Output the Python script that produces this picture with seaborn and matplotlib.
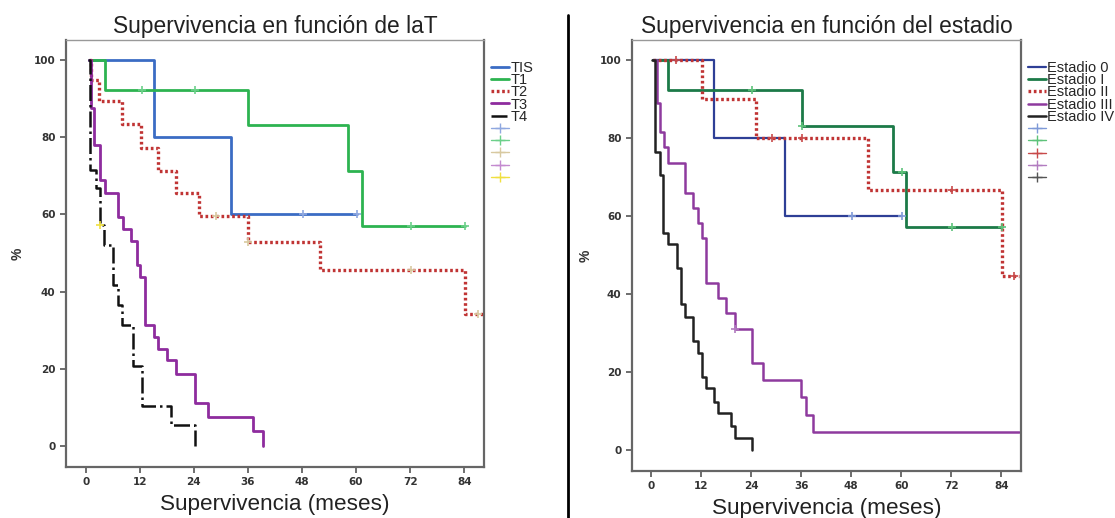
import seaborn as sns
import matplotlib.pyplot as plt
import pandas as pd
from matplotlib.lines import Line2D

# --- datos: tiempos (meses) y supervivencia (%) ---
# panel izquierdo: por T
tis_t = [0.7, 15.1, 32.2, 60.2]
tis_s = [100, 80, 60, 60]
t1_t = [0.9, 4.2, 36.0, 58.2, 61.3, 84.2]
t1_s = [100, 92.3, 83.2, 71.2, 57.0, 57.0]
t2_t = [0.7, 1.2, 2.9, 8.0, 12.2, 16.0, 20.0, 25.1, 36.0, 52.0, 84.2, 88.3]
t2_s = [100, 94.8, 89.4, 83.4, 77.2, 71.2, 65.5, 59.6, 52.8, 45.6, 34.2, 34.2]
t3_t = [0.7, 1.2, 1.85, 3.1, 4.2, 7.2, 8.3, 10.1, 11.3, 12.0, 13.1, 15.1, 16.0, 18.0, 20.0, 24.2, 27.2, 37.2, 39.3]
t3_s = [100, 87.6, 78.0, 68.9, 65.6, 59.4, 56.3, 53.2, 46.9, 43.8, 31.3, 28.2, 25.1, 22.3, 18.7, 11.1, 7.5, 3.9, 0]
t4_t = [0.5, 0.9, 2.2, 3.1, 4.0, 6.1, 7.2, 8.1, 10.4, 12.4, 19.0, 24.2]
t4_s = [100, 71.5, 66.8, 57.2, 52.0, 41.7, 36.5, 31.3, 20.7, 10.4, 5.4, 0]

# censuras (tiempo, %)
tis_cens = [(48.2, 60), (60.2, 60)]
t1_cens = [(12.4, 92.3), (24.2, 92.3), (72.2, 57.0), (84.2, 57.0)]
t2_cens = [(29.0, 59.6), (36.0, 52.8), (72.2, 45.6), (87.1, 34.2)]
t3_cens = []
t4_cens = [(3.1, 57.2)]

# panel derecho: por estadio
e0_t = [0.5, 15.1, 32.1, 60.2]
e0_s = [100, 80, 60, 60]
e1_t = [0.5, 4.1, 36.2, 58.0, 61.2, 84.2]
e1_s = [100, 92.3, 83.0, 71.3, 57.2, 57.2]
e2_t = [0.5, 12.2, 25.2, 52.0, 84.2, 88.3]
e2_s = [100, 90.0, 80.0, 66.7, 44.6, 44.6]
e3_t = [1.0, 1.4, 2.2, 3.1, 4.1, 8.2, 10.1, 11.2, 12.2, 13.1, 16.1, 18.0, 20.0, 24.2, 26.9, 36.0, 37.2, 38.9, 88.3]
e3_s = [100, 89.0, 81.5, 77.7, 73.6, 66.0, 62.0, 58.2, 54.4, 42.8, 38.9, 35.1, 31.0, 22.3, 18.0, 13.6, 9.0, 4.6, 4.6]
e4_t = [0.3, 1.0, 2.0, 2.9, 4.1, 6.2, 7.2, 8.2, 10.1, 11.3, 12.2, 13.2, 15.1, 16.1, 19.2, 20.1, 24.2]
e4_s = [100, 76.4, 70.5, 55.7, 52.8, 46.6, 37.4, 34.1, 27.9, 24.9, 18.7, 15.9, 12.3, 9.5, 6.2, 3.1, 0]

e0_cens = [(48.2, 60), (60.2, 60)]
e1_cens = [(24.2, 92.3), (36.2, 83.0), (60.2, 71.3), (72.2, 57.2), (84.2, 57.2)]
e2_cens = [(6.0, 100), (29.0, 80), (36.2, 80), (72.2, 66.7), (87.0, 44.6)]
e3_cens = [(20.0, 31.0)]
e4_cens = []

x_ticks = [0, 12, 24, 36, 48, 60, 72, 84]
y_ticks = [0, 20, 40, 60, 80, 100]

DOT = (0, (0.8, 0.8))
left_groups = [
    ("TIS", tis_t, tis_s, tis_cens, "#3b6cc4", "-", 2.0, "#8fa8e0"),
    ("T1", t1_t, t1_s, t1_cens, "#2db350", "-", 2.0, "#6cd08a"),
    ("T2", t2_t, t2_s, t2_cens, "#c03434", DOT, 2.4, "#d8c9a0"),
    ("T3", t3_t, t3_s, t3_cens, "#8e2c9e", "-", 2.0, "#c48ad0"),
    ("T4", t4_t, t4_s, t4_cens, "#111111", "-.", 1.8, "#f0e040"),
]
right_groups = [
    ("Estadio 0", e0_t, e0_s, e0_cens, "#2e3f96", "-", 1.6, "#7f9ad8"),
    ("Estadio I", e1_t, e1_s, e1_cens, "#1c7a48", "-", 2.0, "#5ec27a"),
    ("Estadio II", e2_t, e2_s, e2_cens, "#c03434", DOT, 2.4, "#c84a4a"),
    ("Estadio III", e3_t, e3_s, e3_cens, "#8e3a9e", "-", 1.8, "#b27cc0"),
    ("Estadio IV", e4_t, e4_s, e4_cens, "#222222", "-", 1.8, "#555555"),
]

sns.set_theme(style="white")
plt.rcParams['font.family'] = ['Liberation Sans', 'DejaVu Sans']

fig = plt.figure(figsize=(11.15, 5.18), dpi=100)
ax1 = fig.add_axes([0.0592, 0.0985, 0.3749, 0.8243])
ax2 = fig.add_axes([0.5668, 0.0907, 0.3489, 0.8321])


def dibuja(ax, grupos, titulo, xlim, ylim, leg_size):
    handles = []
    for nombre, t, s, cens, col, ls, lw, ccol in grupos:
        df = pd.DataFrame({"t": t, "s": s})
        sns.lineplot(data=df, x="t", y="s", ax=ax, color=col, linestyle=ls,
                     linewidth=lw, drawstyle="steps-post", estimator=None, sort=False)
        if cens:
            cx, cy = zip(*cens)
            ax.plot(cx, cy, linestyle="none", marker="+", markersize=6,
                    markeredgewidth=1.2, color=ccol, zorder=5)
        handles.append(Line2D([0], [0], color=col, linestyle=ls, linewidth=lw, label=nombre))
    for g in grupos:
        handles.append(Line2D([0], [0], color=g[7], linestyle="-", linewidth=1.0,
                              marker="+", markersize=7, label=" "))
    ax.set_xlim(*xlim)
    ax.set_ylim(*ylim)
    ax.set_xticks(x_ticks)
    ax.set_yticks(y_ticks)
    ax.tick_params(axis="both", which="both", direction="out", length=4, width=1.2,
                   color="#555555", labelsize=7.5, labelcolor="#333333",
                   left=True, bottom=True)
    for lab in ax.get_xticklabels() + ax.get_yticklabels():
        lab.set_fontweight("bold")
        lab.set_family("DejaVu Sans")
    for sp in ["left", "bottom", "right"]:
        ax.spines[sp].set_color("#666666")
        ax.spines[sp].set_linewidth(1.6)
    ax.spines["top"].set_color("#999999")
    ax.spines["top"].set_linewidth(1.0)
    ax.set_title(titulo, fontsize=16.4, color="#222222", pad=5)
    ax.set_xlabel("Supervivencia (meses)", fontsize=16.2, color="#222222", labelpad=5)
    ax.set_ylabel("%", fontsize=10, fontweight="bold", color="#333333")
    ax.yaxis.set_label_coords(-0.1, 0.5)
    ax.legend(handles=handles, loc="upper left", bbox_to_anchor=(1.003, 0.965),
              frameon=False, borderaxespad=0, handlelength=1.2, handletextpad=0.12,
              labelspacing=-0.12, fontsize=leg_size)


dibuja(ax1, left_groups, "Supervivencia en función de laT", (-4.4, 88.4), (-5.4, 105.2), 10.5)
dibuja(ax2, right_groups, "Supervivencia en función del estadio", (-4.6, 88.7), (-5.4, 105.1), 10.5)

# línea separadora entre paneles
fig.add_artist(Line2D([0.5094, 0.5094], [0.0, 0.971], transform=fig.transFigure,
                      color="black", linewidth=2))

plt.savefig("out.png", dpi=100)
